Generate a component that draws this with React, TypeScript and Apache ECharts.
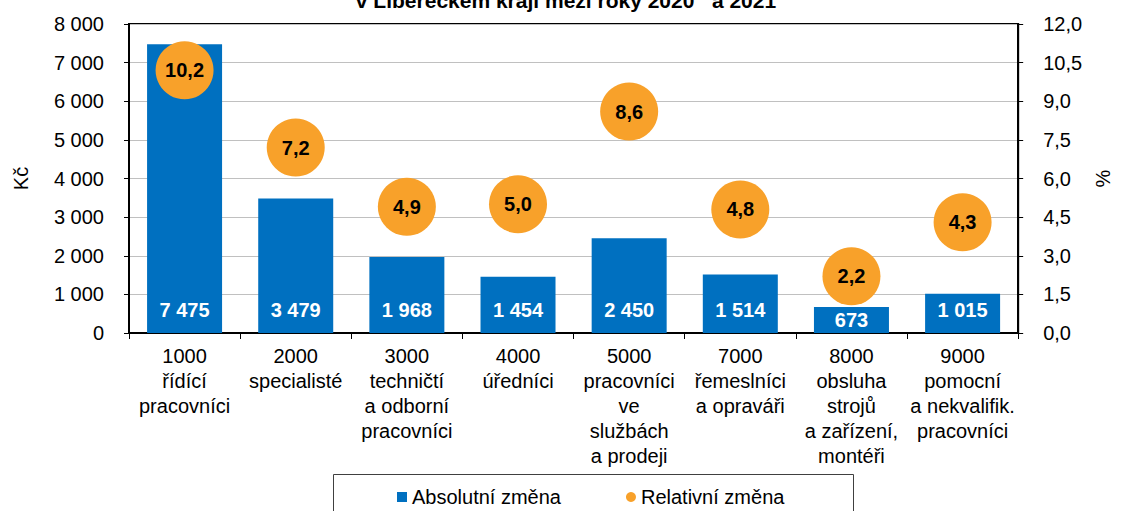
import React, { useEffect, useRef } from "react";
import * as echarts from "echarts";

const codes = ["1000", "2000", "3000", "4000", "5000", "7000", "8000", "9000"];
const names = [
  "řídící\npracovníci",
  "specialisté",
  "techničtí\na odborní\npracovníci",
  "úředníci",
  "pracovníci\nve\nslužbách\na prodeji",
  "řemeslníci\na opraváři",
  "obsluha\nstrojů\na zařízení,\nmontéři",
  "pomocní\na nekvalifik.\npracovníci",
];
const absoluteChange = [7475, 3479, 1968, 1454, 2450, 1514, 673, 1015];
const relativeChange = [10.2, 7.2, 4.9, 5.0, 8.6, 4.8, 2.2, 4.3];
const leftTicks = { min: 0, max: 8000, interval: 1000 };
const rightTicks = { min: 0, max: 12, interval: 1.5 };
const titleText = "v Libereckém kraji mezi roky 2020\u00a0\u00a0 a 2021";
const seriesNames = ["Absolutní změna", "Relativní změna"];

const FONT = "'Liberation Sans', Arial, Helvetica, sans-serif";

const fmtThousands = (v: number) =>
  String(Math.round(v)).replace(/\B(?=(\d{3})+(?!\d))/g, " ");
const fmtDec = (v: number) => v.toFixed(1).replace(".", ",");

export default function App() {
  const ref = useRef<HTMLDivElement>(null);
  useEffect(() => {
    if (!ref.current) return;
    const chart = echarts.init(ref.current, null, { renderer: "svg" });
    const categories = codes.map((c, i) => c + "\n" + names[i]);
    chart.setOption({
      animation: false,
      textStyle: { fontFamily: FONT },
      grid: {
        left: 129,
        width: 899,
        top: 24,
        height: 309,
        show: true,
        borderColor: "#000",
        borderWidth: 2,
        containLabel: false,
      },
      graphic: [
        {
          type: "text",
          x: 566,
          y: 0,
          style: {
            text: titleText,
            font: "bold 21px " + FONT,
            fill: "#000",
            align: "center",
            verticalAlign: "middle",
          },
        },
        {
          type: "rect",
          shape: { x: 333.5, y: 474.5, width: 520, height: 60 },
          style: { fill: "none", stroke: "#404040", lineWidth: 1 },
        },
      ],
      legend: {
        top: 487,
        left: 397,
        padding: 0,
        itemWidth: 10,
        itemHeight: 10,
        itemGap: 65,
        textStyle: { fontSize: 20, color: "#000", fontFamily: FONT },
        data: [
          { name: seriesNames[0], icon: "rect" },
          { name: seriesNames[1], icon: "circle" },
        ],
      },
      xAxis: {
        type: "category",
        data: categories,
        axisLine: { lineStyle: { color: "#000", width: 2 } },
        axisTick: { show: true, length: 6, lineStyle: { color: "#000", width: 1 } },
        axisLabel: {
          interval: 0,
          fontSize: 20,
          lineHeight: 25,
          color: "#000",
          margin: 10,
          fontFamily: FONT,
        },
      },
      yAxis: [
        {
          type: "value",
          min: leftTicks.min,
          max: leftTicks.max,
          interval: leftTicks.interval,
          name: "Kč",
          nameLocation: "middle",
          nameRotate: 90,
          nameGap: 98,
          nameTextStyle: { fontSize: 20, color: "#000", fontFamily: FONT },
          axisLine: { show: true, lineStyle: { color: "#000", width: 2 } },
          axisTick: { show: true, length: 5, lineStyle: { color: "#000" } },
          axisLabel: {
            formatter: (v: number) => fmtThousands(v),
            fontSize: 20,
            color: "#000",
            margin: 25,
            fontFamily: FONT,
          },
          splitLine: { show: true, lineStyle: { color: "#c0c0c0", width: 1 } },
        },
        {
          type: "value",
          min: rightTicks.min,
          max: rightTicks.max,
          interval: rightTicks.interval,
          name: "%",
          nameLocation: "middle",
          nameRotate: 90,
          nameGap: 72,
          nameTextStyle: { fontSize: 20, color: "#000", fontFamily: FONT },
          axisLine: { show: true, lineStyle: { color: "#000", width: 2 } },
          axisTick: { show: true, length: 5, lineStyle: { color: "#000" } },
          axisLabel: {
            formatter: (v: number) => fmtDec(v),
            fontSize: 20,
            color: "#000",
            margin: 25,
            fontFamily: FONT,
          },
          splitLine: { show: false },
        },
      ],
      series: [
        {
          name: seriesNames[0],
          type: "bar",
          yAxisIndex: 0,
          barWidth: 75,
          itemStyle: { color: "#0070c0" },
          data: absoluteChange.map((v) => ({
            value: v,
            label:
              v < 1000
                ? { position: "inside" }
                : { position: "insideBottom", distance: 13 },
          })),
          label: {
            show: true,
            color: "#fff",
            fontWeight: "bold",
            fontSize: 20,
            fontFamily: FONT,
            formatter: (p: any) => fmtThousands(p.value),
          },
          z: 2,
        },
        {
          name: seriesNames[1],
          type: "scatter",
          yAxisIndex: 1,
          symbol: "circle",
          symbolSize: 58,
          itemStyle: { color: "#f8a12a", opacity: 1 },
          data: relativeChange,
          label: {
            show: true,
            position: "inside",
            color: "#000",
            fontWeight: "bold",
            fontSize: 20,
            fontFamily: FONT,
            formatter: (p: any) => fmtDec(p.value),
          },
          z: 3,
        },
      ],
    });
    return () => chart.dispose();
  }, []);
  return (
    <div
      ref={ref}
      style={{ position: "fixed", left: 0, top: 0, width: 1121, height: 511, background: "#fff" }}
    />
  );
}
